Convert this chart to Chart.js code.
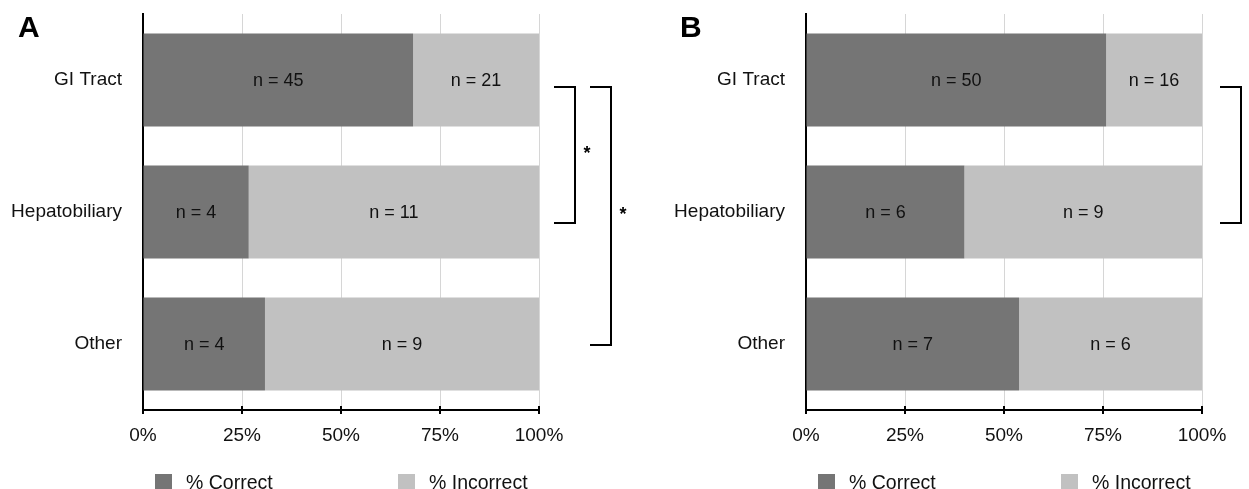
<!DOCTYPE html>
<html>
<head>
<meta charset="utf-8">
<script src="https://cdn.jsdelivr.net/npm/chart.js@4.4.0/dist/chart.umd.min.js"></script>
<style>
html, body { margin: 0; padding: 0; background: #fff; }
#wrap { position: relative; width: 1249px; height: 489px; overflow: hidden; }
canvas { position: absolute; top: 0; }
#chartA { left: 0; }
#chartB { left: 640px; }
</style>
</head>
<body>
<div id="wrap">
    <canvas id="chartA" width="640" height="489"></canvas>
    <canvas id="chartB" width="609" height="489"></canvas>
</div>
<script>
// Dati
const categories = ['GI Tract', 'Hepatobiliary', 'Other'];
const seriesNames = ['% Correct', '% Incorrect'];
const xTickValues = [0, 25, 50, 75, 100];

// Pannello A
const correctA = [68.2, 26.7, 30.8];
const incorrectA = [31.8, 73.3, 69.2];
const countCorrectA = [45, 4, 4];
const countIncorrectA = [21, 11, 9];
const bracketsA = [{ from: 0, to: 1, label: '*' }, { from: 0, to: 2, label: '*' }];

// Pannello B
const correctB = [75.8, 40.0, 53.8];
const incorrectB = [24.2, 60.0, 46.2];
const countCorrectB = [50, 6, 7];
const countIncorrectB = [16, 9, 6];
const bracketsB = [{ from: 0, to: 1, label: '*' }];

const colors = ['#757575', '#c1c1c1'];
const FONT = "'Liberation Sans', Arial, Helvetica, sans-serif";

// Plugin per etichette, legenda, parentesi e lettera del pannello
const decorPlugin = {
    id: 'decor',
    afterDatasetsDraw(chart, args, opts) {
        const ctx = chart.ctx;
        ctx.save();
        ctx.font = '18px ' + FONT;
        ctx.fillStyle = '#111';
        ctx.textAlign = 'center';
        ctx.textBaseline = 'middle';
        chart.data.datasets.forEach((ds, di) => {
            const meta = chart.getDatasetMeta(di);
            meta.data.forEach((bar, i) => {
                const cx = (bar.x + bar.base) / 2;
                ctx.fillText('n = ' + opts.counts[di][i], cx, bar.y + 1);
            });
        });
        ctx.restore();
    },
    afterDraw(chart, args, opts) {
        const ctx = chart.ctx;
        const area = chart.chartArea;
        const xs = chart.scales.x;
        const ys = chart.scales.y;
        ctx.save();

        // tacche dell'asse x
        ctx.strokeStyle = '#000';
        ctx.lineWidth = 2;
        xs.ticks.forEach(t => {
            const px = xs.getPixelForValue(t.value);
            ctx.beginPath();
            ctx.moveTo(px, area.bottom - 4);
            ctx.lineTo(px, area.bottom + 4);
            ctx.stroke();
        });

        // parentesi di significativita
        opts.brackets.forEach((b, k) => {
            const vx = area.right + opts.bracketX[k];
            const y1 = ys.getPixelForValue(b.from) + 7;
            const y2 = ys.getPixelForValue(b.to) + (b.to === 2 ? 1 : 11);
            ctx.beginPath();
            ctx.moveTo(vx - 21, y1);
            ctx.lineTo(vx, y1);
            ctx.lineTo(vx, y2);
            ctx.lineTo(vx - 21, y2);
            ctx.stroke();
            ctx.fillStyle = '#000';
            ctx.font = 'bold 18px ' + FONT;
            ctx.textAlign = 'center';
            ctx.textBaseline = 'middle';
            ctx.fillText(b.label, vx + 12, (y1 + y2) / 2 - 1);
        });

        // legenda
        const legendX = [area.left + 12, area.left + 255];
        ctx.font = '19.5px ' + FONT;
        ctx.textAlign = 'left';
        ctx.textBaseline = 'middle';
        chart.data.datasets.forEach((ds, di) => {
            ctx.fillStyle = ds.backgroundColor;
            ctx.fillRect(legendX[di], 474, 17, 17);
            ctx.fillStyle = '#111';
            ctx.fillText(ds.label, legendX[di] + 31, 484);
        });

        // lettera del pannello
        ctx.font = 'bold 30px ' + FONT;
        ctx.fillStyle = '#000';
        ctx.fillText(opts.letter, opts.letterX, 29);
        ctx.restore();
    }
};

function makeChart(id, correct, incorrect, counts, brackets, bracketX, letter, letterX, yWidth, padRight) {
    return new Chart(document.getElementById(id), {
        type: 'bar',
        data: {
            labels: categories,
            datasets: [{
                label: seriesNames[0],
                data: correct,
                backgroundColor: colors[0]
            }, {
                label: seriesNames[1],
                data: incorrect,
                backgroundColor: colors[1]
            }]
        },
        options: {
            indexAxis: 'y',
            responsive: false,
            animation: false,
            categoryPercentage: 1,
            barPercentage: 0.705,
            layout: { padding: { left: 0, top: 14, right: padRight, bottom: 39 } },
            plugins: {
                legend: { display: false },
                tooltip: { enabled: false },
                decor: { counts, brackets, bracketX, letter, letterX }
            },
            scales: {
                x: {
                    stacked: true,
                    min: 0,
                    max: 100,
                    afterBuildTicks: (scale) => {
                        scale.ticks = xTickValues.map(v => ({ value: v }));
                    },
                    afterFit: (scale) => { scale.height = 40; },
                    ticks: {
                        color: '#111',
                        font: { size: 19, family: FONT },
                        padding: 14,
                        maxRotation: 0,
                        callback: (v) => v + '%'
                    },
                    grid: { color: '#d6d6d6', lineWidth: 1, drawTicks: false },
                    border: { color: '#000', width: 2 }
                },
                y: {
                    stacked: true,
                    afterFit: (scale) => {
                        scale.width = yWidth;
                        scale.paddingTop = 0;
                        scale.paddingBottom = 0;
                    },
                    ticks: {
                        color: '#111',
                        font: { size: 19, family: FONT },
                        padding: 21
                    },
                    grid: { display: false, drawTicks: false },
                    border: { color: '#000', width: 2 }
                }
            }
        },
        plugins: [decorPlugin]
    });
}

makeChart('chartA', correctA, incorrectA, [countCorrectA, countIncorrectA],
    bracketsA, [36, 72], 'A', 18, 143, 101);
makeChart('chartB', correctB, incorrectB, [countCorrectB, countIncorrectB],
    bracketsB, [39], 'B', 40, 166, 609 - 562);
</script>
</body>
</html>
